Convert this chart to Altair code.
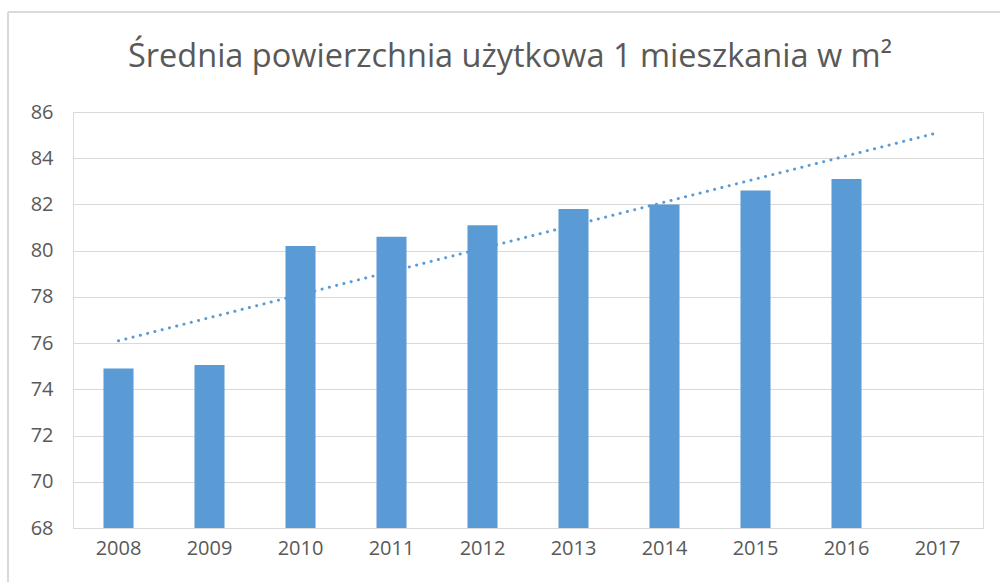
import altair as alt
import pandas as pd

years = ["2008", "2009", "2010", "2011", "2012", "2013", "2014", "2015", "2016", "2017"]
values = [74.9, 75.05, 80.2, 80.6, 81.1, 81.8, 82.0, 82.6, 83.1, None]
trend_years = ["2008", "2017"]
trend_values = [76.1, 85.1]
y_ticks = [68, 70, 72, 74, 76, 78, 80, 82, 84, 86]
title_text = "Średnia powierzchnia użytkowa 1 mieszkania w m²"

bars_df = pd.DataFrame({"year": years, "value": values})
trend_df = pd.DataFrame({"year": trend_years, "value": trend_values})

FONT = "Open Sans"
GRAY = "#595959"
BLUE = "#5B9BD5"

x_enc = alt.X(
    "year:N",
    sort=years,
    scale=alt.Scale(domain=years, paddingInner=0.67, paddingOuter=0.335),
    axis=alt.Axis(
        title=None, labelAngle=0, ticks=False, domain=True, domainColor="#D9D9D9",
        labelFont=FONT, labelFontSize=20, labelColor=GRAY, labelPadding=10,
    ),
)
y_scale = alt.Scale(domain=[68, 86], nice=False, zero=False)
y_axis = alt.Axis(
    title=None, values=y_ticks, ticks=False, domain=False, grid=True,
    gridColor="#D9D9D9", labelFont=FONT, labelFontSize=20, labelColor=GRAY,
    labelPadding=20,
)

bars = alt.Chart(bars_df).mark_bar(color=BLUE, clip=True).encode(
    x=x_enc,
    y=alt.Y("value:Q", scale=y_scale, axis=y_axis),
)

trend = alt.Chart(trend_df).mark_line(
    color=BLUE, strokeWidth=3, strokeDash=[0.1, 7.4], strokeCap="round"
).encode(
    x=alt.X("year:N", sort=years),
    y=alt.Y("value:Q", scale=y_scale),
)

frame_top = alt.Chart(bars_df).mark_rule(color="#D9D9D9", strokeWidth=2, clip=False).encode(
    x=alt.value(-65), x2=alt.value(930), y=alt.value(-100)
)
frame_left = alt.Chart(bars_df).mark_rule(color="#D9D9D9", strokeWidth=2, clip=False).encode(
    x=alt.value(-65), y=alt.value(-100), y2=alt.value(480)
)

chart = alt.layer(frame_top, frame_left, bars, trend).properties(
    width=910,
    height=416,
    autosize=alt.AutoSizeParams(type="none"),
    padding={"left": 73, "top": 112, "right": 17, "bottom": 54},
    title=alt.TitleParams(
        text=title_text, font=FONT, fontSize=32.5, fontWeight="normal",
        color=GRAY, anchor="middle", offset=0, dy=88, dx=-18, baseline="alphabetic",
    ),
).configure_view(stroke=None).configure(background="white")

chart.save("out.html", embed_options={"renderer": "svg", "actions": False})
